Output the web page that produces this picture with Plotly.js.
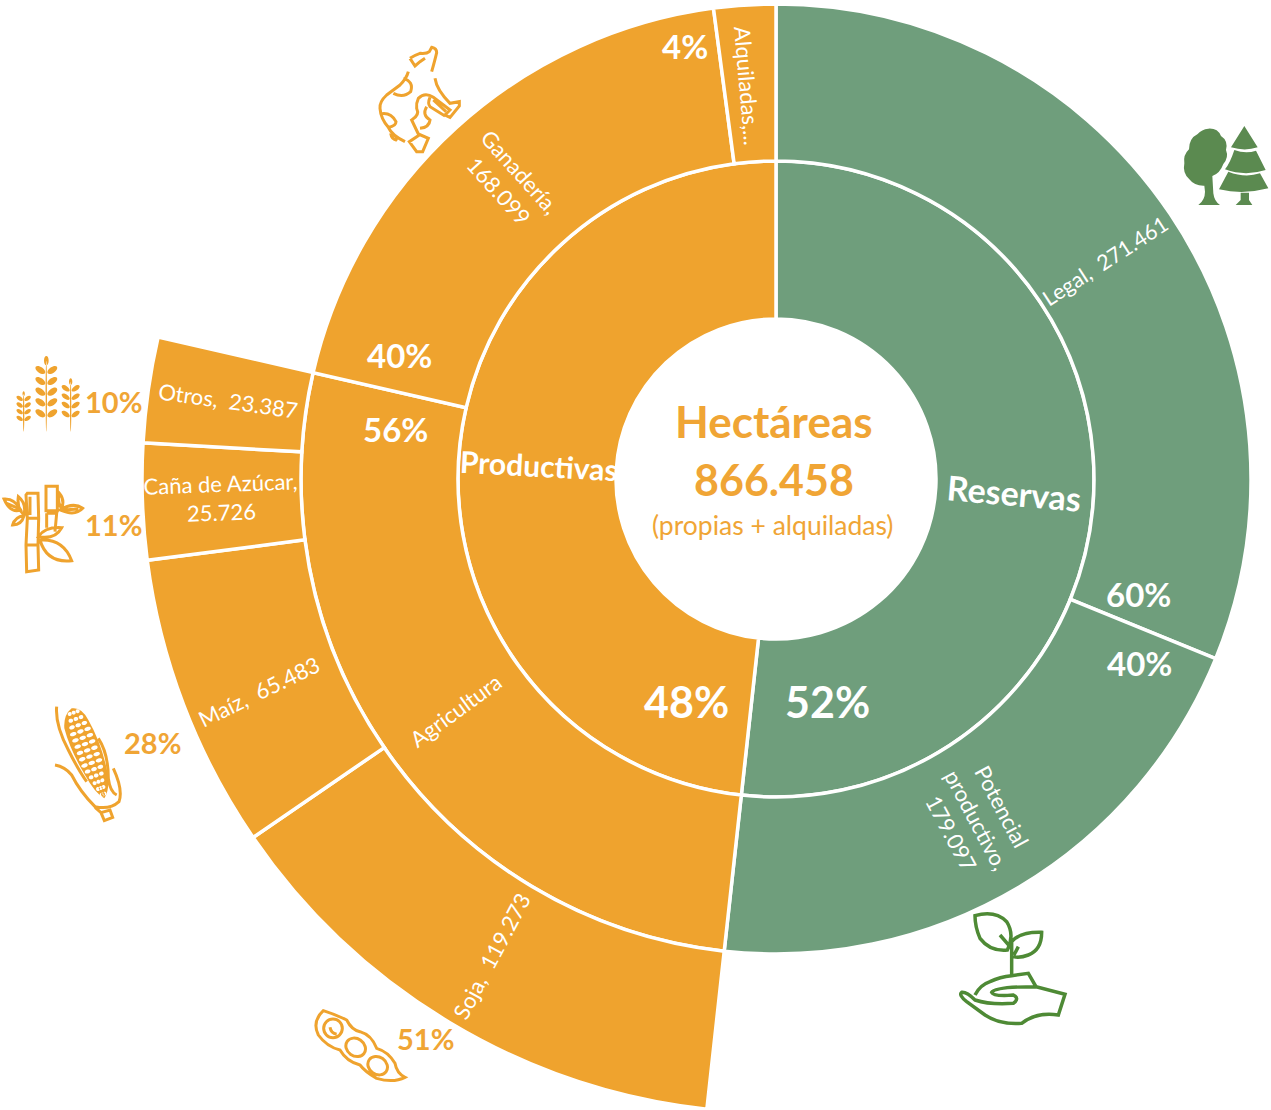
<!DOCTYPE html>
<html><head><meta charset="utf-8">
<script src="https://cdn.plot.ly/plotly-3.0.1.min.js"></script>
<style>html,body{margin:0;padding:0;width:1271px;height:1110px;overflow:hidden;background:#fff}
#c{position:absolute;left:0;top:-161px;width:1416px;height:1280px}</style>
</head><body><div id="c"></div>
<script>
// DATA (hectares)
const outerNames = ['Soja','Maíz','Caña de Azúcar','Otros'];
const outerValues = [119273,65483,25726,23387];
const midNames = ['Legal','Potencial productivo','Agricultura','Ganadería','Alquiladas'];
const midValues = [271461,179097,233869,168099,18300]; // Alquiladas label is truncated: estimated from its arc
const innerNames = ['Reservas','Productivas'];
const innerValues = [450558,420268];

const GREEN='#6F9E7C', ORANGE='#EFA32E', TXT='#F0A535', TREE='#5B8A50', SPROUT='#4E8A35';
const FONT='Lato, Carlito, sans-serif';
const L=0,T=-161,W=1416,H=1280;
const px=x=>(x-L)/W, py=y=>1-(y-T)/H;
const total=innerValues.reduce((a,b)=>a+b,0);

function arcs(vals,start){let c=start||0;const th=[],w=[];vals.forEach(v=>{const d=v/total*360;th.push(c+d/2);w.push(d);c+=d;});return {th,w};}
function ring(vals,names,colors,base,top,start){const a=arcs(vals,start);
  return {type:'barpolar',theta:a.th,width:a.w,base:vals.map(()=>base),r:vals.map(()=>top-base),text:names,
    marker:{color:colors,line:{color:'#fff',width:3.5}},hoverinfo:'text',showlegend:false};}
const traces=[
 ring(innerValues,innerNames,[GREEN,ORANGE],160,318,0),
 ring(midValues,midNames,[GREEN,GREEN,ORANGE,ORANGE,ORANGE],318,475,0),
 ring(outerValues,outerNames,ORANGE,475,634,innerValues[0]/total*360)
];

// Text: text, x, y, size, colour, weight, angle
const labels=[
 ['Hectáreas',774,421,44,TXT,700,0],['866.458',774,479,43,TXT,700,0],['(propias + alquiladas)',773,525,26.5,TXT,400,0],
 ['Productivas',539,465,30,'#fff',700,3],['Reservas',1014,492,34,'#fff',700,5],
 ['52%',827,701,43,'#fff',700,0],['48%',686,701,43,'#fff',700,0],
 ['56%',395,429,33,'#fff',700,0],['40%',399,355,33,'#fff',700,0],['60%',1138,594,33,'#fff',700,0],['40%',1139,663,33,'#fff',700,0],['4%',685,46,33,'#fff',700,0],
 ['Legal,  271.461',1105,261,21.5,'#fff',400,-33],['Ganadería,<br>168.099',509,181,22,'#fff',400,48],['Alquiladas,...',747,85,22,'#fff',400,85],
 ['Otros,  23.387',228,400,22,'#fff',400,8],['Caña de Azúcar,<br>25.726',221,498,22,'#fff',400,-2],['Maíz,  65.483',259,691,22,'#fff',400,-26],
 ['Agricultura',455,710,22,'#fff',400,-36],['Soja,  119.273',491,956,22,'#fff',400,-62],['Potencial<br>productivo,<br>179.097',977,820,22,'#fff',400,62],
 ['10%',114,401,29,TXT,700,0],['11%',114,524,29,TXT,700,0],['28%',152,742,29,TXT,700,0],['51%',426,1038,29,TXT,700,0]
];
const annotations=labels.map(([t,x,y,s,c,wt,a])=>({text:t,x:px(x),y:py(y),xref:'paper',yref:'paper',xanchor:'center',yanchor:'middle',showarrow:false,textangle:a,
  align:'center',font:{family:FONT,size:s,color:c,weight:wt}}));

// Icons (drawn in zoom coordinates, offset + 1/3 scale)
function conv(d,ox,oy){let n=0;return d.replace(/-?\d+(\.\d+)?/g,m=>{const v=parseFloat(m);const r=(n%2===0)?px(ox+v/3):py(oy+v/3);n++;return r.toFixed(6);});}
const shapes=[];
function add(ox,oy,d,opt){shapes.push(Object.assign({type:'path',xref:'paper',yref:'paper',layer:'above',path:conv(d,ox,oy)},opt));}
const stroke=(c,w)=>({line:{color:c,width:w},fillcolor:'rgba(0,0,0,0)'});
const fill=c=>({line:{width:0,color:c},fillcolor:c});
function ell(cx,cy,a,b,ang){const r=ang*Math.PI/180,k=.5523,P=(u,v)=>[(cx+u*Math.cos(r)-v*Math.sin(r)).toFixed(1),(cy+u*Math.sin(r)+v*Math.cos(r)).toFixed(1)].join(' ');
 return `M${P(a,0)} C${P(a,k*b)} ${P(k*a,b)} ${P(0,b)} C${P(-k*a,b)} ${P(-a,k*b)} ${P(-a,0)} C${P(-a,-k*b)} ${P(-k*a,-b)} ${P(0,-b)} C${P(k*a,-b)} ${P(a,-k*b)} ${P(a,0)} Z `;}

// cow
add(370,40,'M120 55 Q135 45 150 40 Q170 42 178 35 L185 22 Q200 25 200 38 Q195 60 185 95 M120 55 L135 78 L150 65 L165 55 M115 95 Q110 115 90 135 L50 165 Q28 185 30 205 Q32 235 55 262 Q65 285 105 305 M62 280 Q65 298 78 300 Q85 290 62 280 M100 115 Q132 125 122 155 Q100 175 70 160 M30 222 Q62 215 78 245 Q78 258 55 262 M195 115 Q200 150 240 190 L268 185 L268 198 L240 232 L225 225 L240 210 L190 172 Q165 155 145 175 Q138 190 140 205 Q150 225 125 240 L145 282 L175 295 L158 335 L140 335 L118 305 L148 285 M180 172 Q172 190 180 200 L225 228 M190 180 L228 215 M170 200 Q155 225 180 240 Q178 262 150 265',stroke(ORANGE,3));
// trees
add(1175,120,'M100 26 Q128 24 138 48 Q160 62 153 90 Q162 112 145 132 Q135 160 112 168 L115 220 Q118 245 135 255 L70 255 Q90 240 90 215 L88 197 Q58 198 43 178 Q22 160 28 130 Q24 105 42 88 Q42 55 68 42 Q80 28 100 26 Z M208 18 L248 82 Q210 95 168 82 Z M178 90 Q212 102 243 92 L272 150 Q210 170 150 148 Q165 130 178 90 Z M160 155 Q210 175 255 160 L280 205 Q205 225 132 208 Z M197 218 L222 218 L222 240 L232 255 L182 255 L197 240 Z',fill(TREE));
// wheat
(function(){let d='';
 const stalks=[[139,[75,108,140,172,205],17,9,47,14],[71,[160,180,200,220],11,6,146,7],[212,[130,155,180,207],14,7,110,10]];
 stalks.forEach(([x,ys,a,b,ty,tl])=>{d+=ell(x,ty,tl*.5,tl,0);ys.forEach(y=>{d+=ell(x-a-1,y,a,b,35);d+=ell(x+a+1,y,a,b,-35);});d+=ell(x,(ty+260)/2,2,(260-ty)/2,0);});
 add(0,345,d,fill(ORANGE));
})();
// bamboo
add(0,345,'M82 445 L114 445 L116 520 L114 600 L116 675 L80 680 L78 600 L82 520 L78 450 Z M80 520 L116 520 M80 600 L116 600 M90 455 L90 510 M138 424 L172 424 L172 497 L138 497 Z M140 505 L170 505 L165 560 M140 505 L140 548 M12 462 Q45 460 62 495 Q30 505 12 462 Z M20 475 L55 490 M55 455 Q80 475 72 510 Q50 490 55 455 Z M72 512 Q65 540 38 540 Q45 515 72 512 Z M178 445 Q195 465 185 490 Q170 470 178 445 Z M180 495 Q220 470 248 490 Q225 515 180 495 Z M190 495 L235 492 M115 575 Q135 545 185 548 Q165 585 115 575 Z M120 585 Q190 580 215 647 Q140 655 120 585 Z',stroke(ORANGE,3));
// corn
add(45,700,'M80 25 Q110 20 130 60 Q170 130 188 220 Q195 270 178 295 Q150 280 120 225 Q75 150 58 85 Q55 45 80 25 Z',fill(ORANGE));
(function(){let d='';const rows=14;for(let i=0;i<rows;i++){const t=i/(rows-1),cx=86+t*88,cy=38+t*245;const taper=Math.min(1,.55+t*2,(1-t)*2.2+.2);
 for(let j=-1;j<=1;j++){const off=j*23*taper;d+=ell(cx+off*.94,cy-off*.34,10*Math.max(.6,taper),6,-18);}}
 add(45,700,d,fill('#fff'));})();
add(45,700,'M35 20 Q30 75 70 150 Q100 210 125 245 M30 195 Q60 200 80 225 Q105 275 150 320 Q195 330 222 305 Q235 270 205 205 M160 115 Q190 160 190 235 Q195 275 215 285 M168 338 L195 330 L203 352 L178 362 Z M150 322 L168 338',stroke(ORANGE,3));
// soybean
add(305,1000,'M55 32 Q95 45 125 60 Q140 90 165 95 Q200 105 215 145 Q250 155 270 190 Q275 220 300 232 Q265 250 215 235 Q180 215 165 195 Q125 185 105 150 Q65 140 40 105 Q20 65 55 32 Z '+ell(84,85,28,28,0)+ell(152,142,31,26,35)+ell(218,197,31,26,35)+'M75 82 Q78 100 95 103',stroke(ORANGE,3));
// sprout
add(950,905,'M75 32 Q135 15 170 50 Q195 90 172 135 Q120 140 90 100 Q75 65 75 32 Z M185 212 L185 110 Q210 80 275 82 Q275 135 235 150 Q210 160 190 155 M150 90 L180 125 M205 125 L192 150 M75 270 Q90 240 120 230 Q150 215 185 212 L235 205 L258 245 L345 268 L325 330 Q260 320 215 355 Q150 360 105 330 L50 290 Q25 270 35 262 Q50 260 75 285 Q120 300 190 295 Q210 280 190 270 Q130 275 125 262 Q135 245 258 245',stroke(SPROUT,3.5));

Plotly.newPlot('c',traces,{
 width:W,height:H,margin:{l:0,r:0,t:0,b:0,pad:0},paper_bgcolor:'#fff',font:{family:FONT},showlegend:false,
 polar:{domain:{x:[136/W,1],y:[0,1]},bgcolor:'rgba(0,0,0,0)',hole:0,
  angularaxis:{direction:'clockwise',rotation:90,visible:false,showgrid:false,showline:false,ticks:''},
  radialaxis:{range:[0,640],visible:false,showgrid:false,showline:false,ticks:''},bargap:0},
 annotations,shapes
},{displayModeBar:false});
</script></body></html>
